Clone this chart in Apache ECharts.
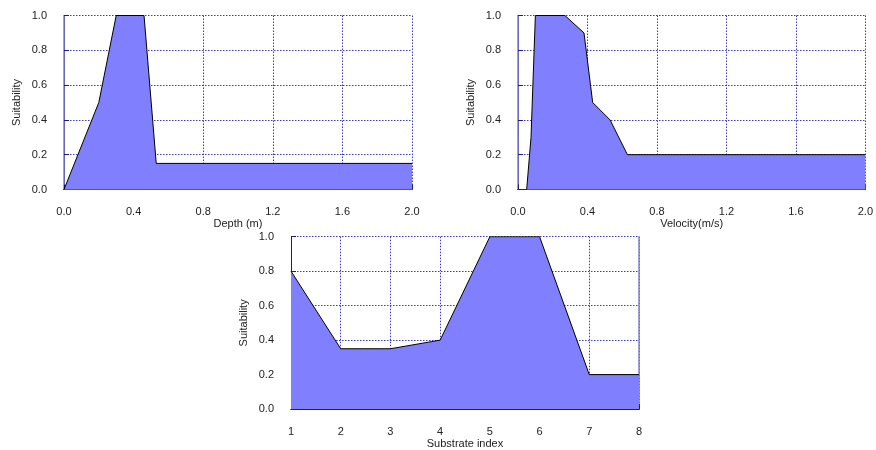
<!DOCTYPE html>
<html><head><meta charset="utf-8">
<script src="https://cdn.jsdelivr.net/npm/echarts@6/dist/echarts.min.js"></script>
<style>html,body{margin:0;padding:0;background:#fff}#c{width:876px;height:450px}</style>
</head><body><div id="c"></div>
<script>
var depthX = [0, 0.2, 0.3, 0.46, 0.53, 2.0];
var depthY = [0, 0.5, 1.0, 1.0, 0.15, 0.15];
var velX = [0.05, 0.075, 0.1, 0.27, 0.38, 0.43, 0.53, 0.63, 2.0];
var velY = [0, 0.3, 1.0, 1.0, 0.9, 0.5, 0.4, 0.2, 0.2];
var subX = [1, 2, 3, 4, 5, 6, 7, 8];
var subY = [0.8, 0.35, 0.35, 0.4, 1.0, 1.0, 0.2, 0.2];
var xNames = ['Depth (m)', 'Velocity(m/s)', 'Substrate index'];
var yName = 'Suitability';

function pairs(xs, ys){ return xs.map(function(x,i){return [x, ys[i]];}); }

var grids = [
  {left:64, top:15.5, width:348, height:174},
  {left:518, top:15.5, width:348, height:174},
  {left:291, top:236.7, width:348, height:175}
];
var xr = [[0,2,0.4],[0,2,0.4],[1,8,1]];
var font = 'Liberation Sans, Arial, sans-serif';
var navy = '#1a1a8c';
var xAxis = [], yAxis = [], series = [];
var datas = [pairs(depthX, depthY), pairs(velX, velY), pairs(subX, subY)];
function fmt1(v){ return v.toFixed(1); }
function fmt0(v){ return String(v); }
for (var g=0; g<3; g++){
  xAxis.push({type:'value', gridIndex:g, min:xr[g][0], max:xr[g][1], interval:xr[g][2],
    name:xNames[g], nameLocation:'middle', nameGap:26,
    nameTextStyle:{fontFamily:font, fontSize:11, color:'#222'},
    axisLine:{lineStyle:{color:navy, width:1}},
    axisTick:{inside:true, length:5, lineStyle:{color:navy}},
    axisLabel:{fontFamily:font, fontSize:11, color:'#222', margin:17,
      formatter: g<2 ? fmt1 : fmt0},
    splitLine:{show:true, lineStyle:{color:'#3a3ab8', type:[1.5,1.5], width:1}}
  });
  xAxis.push({type:'value', gridIndex:g, min:xr[g][0], max:xr[g][1], position:'top',
    axisLine:{lineStyle:{color:navy, width:1}}, axisTick:{show:false}, axisLabel:{show:false}, splitLine:{show:false}});
  yAxis.push({type:'value', gridIndex:g, min:0, max:1, interval:0.2,
    name:yName, nameLocation:'middle', nameGap:42, nameRotate:90,
    nameTextStyle:{fontFamily:font, fontSize:11, color:'#222'},
    axisLine:{show:true, lineStyle:{color:navy, width:1}},
    axisTick:{show:true, inside:true, length:5, lineStyle:{color:navy}},
    axisLabel:{fontFamily:font, fontSize:11, color:'#222', margin:17, formatter:fmt1},
    splitLine:{show:true, lineStyle:{color:'#3a3ab8', type:[1.5,1.5], width:1}}
  });
  yAxis.push({type:'value', gridIndex:g, min:0, max:1, position:'right',
    axisLine:{show:true, lineStyle:{color:'#8282c8', width:1.5}}, axisTick:{show:false}, axisLabel:{show:false}, splitLine:{show:false}});
  series.push({type:'line', xAxisIndex:g*2, yAxisIndex:g*2, data:datas[g], symbol:'none',
    lineStyle:{color:'#000', width:1}, areaStyle:{color:'#8080ff', opacity:1, origin:'start'}, z:1, animation:false});
}
var chart = echarts.init(document.getElementById('c'), null, {renderer:'canvas'});
chart.setOption({animation:false, backgroundColor:'#fff', grid:grids, xAxis:xAxis, yAxis:yAxis, series:series});
</script></body></html>
